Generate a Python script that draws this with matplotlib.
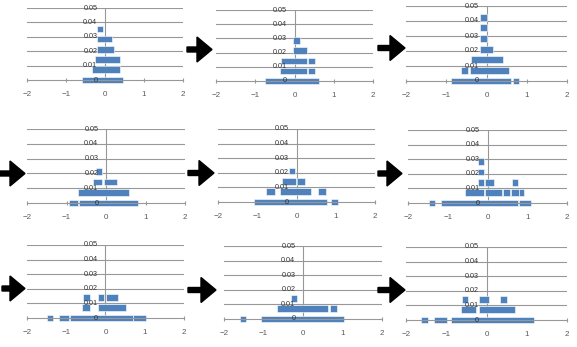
import matplotlib
matplotlib.use("Agg")
import matplotlib.pyplot as plt
from matplotlib.patches import Polygon

# each panel: rows from the bottom up, each row a list of (left, right) segments
panel1 = [[(-0.58, 0.47)], [(-0.34, 0.38)], [(-0.26, 0.38)], [(-0.21, 0.23)],
          [(-0.21, 0.18)], [(-0.21, -0.04)]]
panel2 = [[(-0.75, 0.63)], [(-0.37, 0.32), (0.35, 0.52)], [(-0.34, 0.31), (0.35, 0.52)],
          [(-0.03, 0.31)], [(-0.03, 0.13)]]
panel3 = [[(-0.88, 0.62), (0.65, 0.80)], [(-0.63, -0.46), (-0.40, 0.55)], [(-0.39, 0.42)],
          [(-0.15, 0.16)], [(-0.15, 0.01)], [(-0.15, 0.01)], [(-0.15, 0.01)]]
panel4 = [[(-0.93, -0.70), (-0.68, 0.80)], [(-0.70, 0.58)], [(-0.32, -0.11), (-0.05, 0.29)],
          [(-0.25, -0.10)]]
panel5 = [[(-1.09, 0.77), (0.88, 1.05)], [(-0.78, -0.54), (-0.43, 0.37), (0.55, 0.74)],
          [(-0.37, -0.02), (0.0, 0.22)], [(-0.20, -0.03)]]
panel6 = [[(-1.48, -1.33), (-1.16, 0.77), (0.79, 1.09)],
          [(-0.56, -0.08), (-0.06, 0.36), (0.38, 0.57), (0.59, 0.78), (0.80, 0.93)],
          [(-0.24, -0.09), (-0.07, 0.17), (0.62, 0.77)], [(-0.24, -0.09)], [(-0.24, -0.09)]]
panel7 = [[(-1.49, -1.34), (-1.18, -0.93), (-0.91, 0.69), (0.71, 1.03)],
          [(-0.59, -0.39), (-0.19, 0.52)], [(-0.57, -0.39), (-0.18, -0.03), (0.02, 0.31)]]
panel8 = [[(-1.59, -1.44), (-1.07, 1.03)], [(-0.66, 0.63), (0.69, 0.85)], [(-0.30, -0.15)]]
panel9 = [[(-1.62, -1.45), (-1.30, -0.97), (-0.87, 1.17)], [(-0.63, -0.26), (-0.19, 0.72)],
          [(-0.62, -0.47), (-0.19, 0.07), (0.33, 0.50)]]
panels = [panel1, panel2, panel3, panel4, panel5, panel6, panel7, panel8, panel9]

y_ticks = [0, 0.01, 0.02, 0.03, 0.04, 0.05]
y_labels = ["0", "0.01", "0.02", "0.03", "0.04", "0.05"]
x_ticks = [-2, -1, 0, 1, 2]
x_labels = ["\u22122", "\u22121", "0", "1", "2"]

ROW_STEP = 0.0071
BAR_H = 0.0046
BLUE = "#4F81BD"
GRID = "#989898"

W, H = 577, 347
plt.rcParams["font.family"] = ["Liberation Sans", "DejaVu Sans"]
fig = plt.figure(figsize=(W / 100, H / 100), dpi=100)

# plot areas in pixels: left, right, top (0.05), bottom (0)
boxes = [(27, 183, 8, 80), (216, 373, 10, 81), (406, 567, 6, 81),
         (27, 185, 129, 203), (218, 375, 129, 202), (408, 567, 130, 203),
         (27, 184, 245, 318), (224, 382, 246, 319), (406, 567, 247, 320)]

for (l, r, t, b), panel in zip(boxes, panels):
    ax = fig.add_axes([l / W, 1 - b / H, (r - l) / W, (b - t) / H])
    ax.set_xlim(-2, 2)
    ax.set_ylim(0, 0.05)
    ax.patch.set_alpha(0)
    for v in y_ticks[1:]:
        ax.axhline(v, color=GRID, lw=0.8, zorder=1)
    ax.axvline(0, color=GRID, lw=0.8, zorder=1)
    for i, row in enumerate(panel):
        for x0, x1 in row:
            ax.barh(i * ROW_STEP, x1 - x0, left=x0, height=BAR_H, color=BLUE,
                    edgecolor="white", linewidth=0.4, clip_on=False, zorder=2)
    for v, lab in zip(y_ticks, y_labels):
        ax.annotate(lab, (0, v), xytext=(-5.5, 0), textcoords="offset points",
                    ha="right", va="center", fontsize=5.2, color="#333333", zorder=5,
                    annotation_clip=False)
    for s in ["top", "left", "right"]:
        ax.spines[s].set_visible(False)
    ax.spines["bottom"].set_color(GRID)
    ax.spines["bottom"].set_linewidth(0.8)
    ax.set_yticks([])
    ax.set_xticks(x_ticks)
    ax.set_xticklabels(x_labels)
    ax.tick_params(axis="x", direction="inout", length=3, width=0.8, color=GRID,
                   labelsize=5.8, labelcolor="#595959", pad=6.5)

# block arrows between panels (tail x, tip x, centre y in pixels)
arrows = [(187, 212, 49.5), (378, 405, 48), (0, 25, 173.5), (188, 214, 173),
          (378, 402, 173.5), (2, 25, 288.5), (188, 216, 290), (378, 405, 290)]
for x0, x1, yc in arrows:
    hx = x1 - 15
    pts = [(x0, yc - 2.5), (hx, yc - 2.5), (hx, yc - 12.5), (x1, yc), (hx, yc + 12.5),
           (hx, yc + 2.5), (x0, yc + 2.5)]
    pts = [(px / W, 1 - py / H) for px, py in pts]
    fig.add_artist(Polygon(pts, closed=True, color="black", transform=fig.transFigure))

fig.savefig("out.png", dpi=100)
